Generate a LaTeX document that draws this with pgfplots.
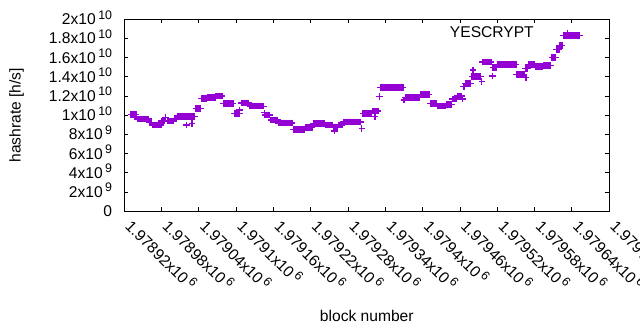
\documentclass[border=0pt]{standalone}
\usepackage{fontspec}
\setmainfont{Liberation Sans}
\usepackage{pgfplots}
\pgfplotsset{compat=1.18}
\definecolor{gpviolet}{RGB}{148,0,211}
\newcommand{\pw}[1]{\hspace{2.5bp}\smash{\raisebox{5.5bp}{\fontsize{12.4bp}{14bp}\selectfont #1}}}
\pgfplotsset{markonlylegend/.style={legend image code/.code={\draw[##1] plot coordinates {(0bp,0bp)};}}}
\begin{document}
\begin{tikzpicture}[font=\fontsize{15.6bp}{18bp}\selectfont]
\begin{axis}[
  scale only axis, width=485bp, height=192bp,
  xmin=20, xmax=800, ymin=0, ymax=20,
  axis line style={line width=1bp, black},
  every tick/.style={black, line width=1bp},
  major tick length=4bp,
  tick align=inside,
  xtick={20,80,140,200,260,320,380,440,500,560,620,680,740,800},
  xticklabels={1.97892x10\pw{6},1.97898x10\pw{6},1.97904x10\pw{6},1.9791x10\pw{6},1.97916x10\pw{6},1.97922x10\pw{6},1.97928x10\pw{6},1.97934x10\pw{6},1.9794x10\pw{6},1.97946x10\pw{6},1.97952x10\pw{6},1.97958x10\pw{6},1.97964x10\pw{6},1.9797x10\pw{6}},
  ytick={0,2,4,6,8,10,12,14,16,18,20},
  yticklabels={0,2x10\pw{9},4x10\pw{9},6x10\pw{9},8x10\pw{9},1x10\pw{10},1.2x10\pw{10},1.4x10\pw{10},1.6x10\pw{10},1.8x10\pw{10},2x10\pw{10}},
  xticklabel style={yshift=-16bp, rotate=-45, anchor=base west, inner sep=0pt},
  yticklabel style={anchor=east, inner sep=0pt, xshift=-12bp},
  xlabel={block number},
  xlabel style={at={(axis description cs:0.5,-0.574)}, anchor=base, inner sep=0pt},
  ylabel={hashrate [h/s]},
  ylabel style={at={(axis description cs:-0.2223,0.5)}, anchor=center, inner sep=0pt},
  legend style={draw=none, fill=none, at={(axis description cs:0.9212,0.9286)}, anchor=east, inner sep=0pt, nodes={inner sep=0pt}, /tikz/column sep=30.5bp},
  legend plot pos=right,
  legend cell align=right,
]
% x = block number - 1978900 ; y = hashrate in units of 1e9 h/s
\addplot[only marks, mark=+, mark size=3.3bp, color=gpviolet, mark options={line width=1.3bp}, markonlylegend]
coordinates {
(31,10.1)(33,10.1)(35,10.1)(37,10.1)(39,10.1)
(41,9.6)(43,9.6)(45,9.6)(47,9.6)(49,9.6)(51,9.6)(53,9.6)(55,9.6)(57,9.6)(59,9.6)
(61,9.27)(63,9.27)
(65,9.0)(67,9.0)(69,9.0)(71,9.0)(73,9.0)(75,9.0)(77,9.0)(79,9.0)
(80,9.4)(82,9.4)(84,9.4)
(86,9.8)
(89,9.4)(91,9.4)(93,9.4)(95,9.4)(97,9.4)(99,9.4)
(101,9.7)(103,9.7)
(106,9.9)(108,9.9)(110,9.9)(112,9.9)(114,9.9)(116,9.9)(118,9.9)
(120,9.0)
(121,9.9)(123,9.9)(125,9.9)(127,9.9)(129,9.9)(131,9.9)
(129,9.17)
(133,9.9)
(135,10.73)(137,10.73)(139,10.73)(141,10.73)(143,10.73)
(144,11.77)(146,11.77)(148,11.77)(150,11.77)(152,11.77)
(154,11.88)(156,11.88)(158,11.88)(160,11.88)(162,11.88)(164,11.88)(166,11.88)
(167,12.0)(169,12.0)(171,12.0)(173,12.0)(175,12.0)(177,12.0)
(179,11.25)(181,11.25)(183,11.25)(185,11.25)(187,11.25)(189,11.25)(191,11.25)(193,11.25)(195,11.25)
(197,10.17)(199,10.17)(201,10.17)(203,10.17)(205,10.17)
(205,10.55)
(208,11.28)(210,11.28)(212,11.28)(214,11.28)(216,11.28)(218,11.28)(220,11.28)
(222,10.95)(224,10.95)(226,10.95)(228,10.95)(230,10.95)(232,10.95)(234,10.95)(236,10.95)(238,10.95)(240,10.95)(242,10.95)(244,10.95)
(245,10.26)
(246,10.03)(248,10.03)(250,10.03)(252,10.03)(254,10.03)
(256,9.51)(258,9.51)(260,9.51)(262,9.51)(264,9.51)(266,9.51)
(268,9.2)(270,9.2)(272,9.2)(274,9.2)(276,9.2)(278,9.2)(280,9.2)(282,9.2)(284,9.2)(286,9.2)(288,9.2)(290,9.2)
(292,8.54)(294,8.54)(296,8.54)(298,8.54)(300,8.54)(302,8.54)(304,8.54)(306,8.54)(308,8.54)(310,8.54)
(312,8.75)(314,8.75)(316,8.75)(318,8.75)(320,8.75)(322,8.75)
(324,9.15)(326,9.15)(328,9.15)(330,9.15)(332,9.15)(334,9.15)(336,9.15)(338,9.15)(340,9.15)(342,9.15)
(344,9.0)(346,9.0)(348,9.0)(350,9.0)(352,9.0)(354,9.0)
(356,8.71)(358,8.71)(360,8.71)(362,8.71)
(358,8.36)
(364,8.99)(366,8.99)(368,8.99)(370,8.99)
(372,9.3)(374,9.3)(376,9.3)(378,9.3)(380,9.3)(382,9.3)(384,9.3)(386,9.3)(388,9.3)(390,9.3)(392,9.3)(394,9.3)(396,9.3)(398,9.3)(400,9.3)
(402,8.65)
(404,10.2)(406,10.2)(408,10.2)(410,10.2)(412,10.2)(414,10.2)(416,10.2)(418,10.2)
(420,10.45)(422,10.45)(424,10.45)(426,10.45)(428,10.45)
(423,9.85)
(430,11.98)
(432,12.92)(434,12.92)(436,12.92)(438,12.92)(440,12.92)(442,12.92)(444,12.92)(446,12.92)(448,12.92)(450,12.92)(452,12.92)(454,12.92)(456,12.92)(458,12.92)(460,12.92)(462,12.92)(464,12.92)(466,12.92)(468,12.92)
(470,11.59)
(472,11.88)(474,11.88)(476,11.88)(478,11.88)(480,11.88)(482,11.88)(484,11.88)(486,11.88)(488,11.88)(490,11.88)(492,11.88)(494,11.88)
(496,12.19)(498,12.19)(500,12.19)(502,12.19)(504,12.19)(506,12.19)(508,12.19)(510,12.19)
(512,11.25)(514,11.25)(516,11.25)(518,11.25)(520,11.25)(522,11.25)
(524,10.97)(526,10.97)(528,10.97)(530,10.97)(532,10.97)(534,10.97)(536,10.97)
(538,11.15)(540,11.15)(542,11.15)(544,11.15)(546,11.15)
(548,11.7)(550,11.7)(552,11.7)(554,11.7)
(556,12.01)(558,12.01)(560,12.01)(562,12.01)
(564,11.7)
(565,13.02)(567,13.02)
(569,13.33)(571,13.33)(573,13.33)(575,13.33)(577,13.33)
(581,14.72)
(579,14.02)(581,14.02)(583,14.02)(585,14.02)(587,14.02)(589,14.02)(591,14.02)(593,14.02)
(595,13.5)
(596,15.55)(598,15.55)(600,15.55)(602,15.55)(604,15.55)(606,15.55)(608,15.55)(610,15.55)
(612,14.09)
(613,15.0)(615,15.0)(617,15.0)(619,15.0)
(620,15.31)(622,15.31)(624,15.31)(626,15.31)(628,15.31)(630,15.31)(632,15.31)(634,15.31)(636,15.31)(638,15.31)(640,15.31)(642,15.31)(644,15.31)(646,15.31)(648,15.31)(650,15.31)
(651,14.27)(653,14.27)(655,14.27)(657,14.27)(659,14.27)(661,14.27)(663,14.27)
(666,13.92)
(665,14.9)(667,14.9)(669,14.9)
(670,15.31)(672,15.31)(674,15.31)(676,15.31)(678,15.31)(680,15.31)
(682,15.06)(684,15.06)(686,15.06)(688,15.06)(690,15.06)(692,15.06)
(694,15.2)(696,15.2)(698,15.2)(700,15.2)(702,15.2)(704,15.2)(706,15.2)
(708,16.04)(710,16.04)(712,16.04)(714,16.04)
(715,16.88)(717,16.88)(719,16.88)
(720,17.25)(722,17.25)(724,17.25)
(726,18.29)(728,18.29)(730,18.29)(732,18.29)(734,18.29)(736,18.29)(738,18.29)(740,18.29)(742,18.29)(744,18.29)(746,18.29)(748,18.29)(750,18.29)(752,18.29)
};
\addlegendentry{YESCRYPT}
\end{axis}
\pgfresetboundingbox
\path[use as bounding box] (-124.3bp,-118.7bp) rectangle (515.7bp,211.3bp);
\end{tikzpicture}
\end{document}
